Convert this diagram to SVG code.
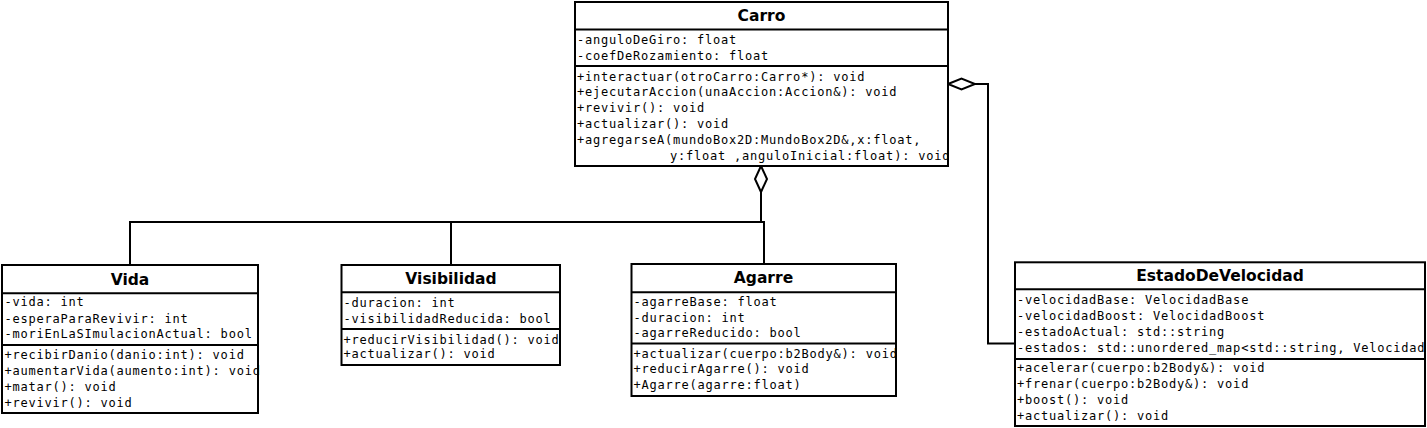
<svg xmlns="http://www.w3.org/2000/svg" width="1427" height="428" viewBox="0 0 1427 428">
<style>
.box{fill:#fff;stroke:#000;stroke-width:2}
.sep{stroke:#000;stroke-width:2}
.t{font-family:"DejaVu Sans","Liberation Sans",sans-serif;font-weight:bold;font-size:15.5px;text-anchor:middle;fill:#000}
.m{font-family:"DejaVu Sans Mono","Liberation Mono",monospace;font-size:12px;letter-spacing:0.78px;fill:#000}
.c{fill:none;stroke:#000;stroke-width:2}
.d{fill:#fff;stroke:#000;stroke-width:2}
</style>
<rect width="1427" height="428" fill="#fff"/>
<g id="connectors">
<polyline class="c" points="130,265 130,222 764,222 764,264"/>
<line class="c" x1="451" y1="222" x2="451" y2="265"/>
<line class="c" x1="761" y1="192" x2="761" y2="222"/>
<polygon class="d" points="761,166 767,179 761,192 755,179"/>
<polyline class="c" points="1015,343.5 988,343.5 988,84 975,84"/>
<polygon class="d" points="948,84 961.5,78.5 975,84 961.5,89.5"/>
</g>
<g id="Carro">
<rect class="box" x="575" y="2" width="373" height="164"/>
<line class="sep" x1="575" y1="29.5" x2="948" y2="29.5"/>
<line class="sep" x1="575" y1="66" x2="948" y2="66"/>
<text class="t" x="761.5" y="21">Carro</text>
<text class="m" x="577" y="44">-anguloDeGiro: float</text>
<text class="m" x="577" y="59.5">-coefDeRozamiento: float</text>
<text class="m" x="577" y="80.5">+interactuar(otroCarro:Carro*): void</text>
<text class="m" x="577" y="96.3">+ejecutarAccion(unaAccion:Accion&amp;): void</text>
<text class="m" x="577" y="112.1">+revivir(): void</text>
<text class="m" x="577" y="127.9">+actualizar(): void</text>
<text class="m" x="577" y="143.7">+agregarseA(mundoBox2D:MundoBox2D&amp;,x:float,</text>
<text class="m" x="670" y="159.5">y:float ,anguloInicial:float): void</text>
</g>
<g id="Vida">
<rect class="box" x="2" y="265" width="256" height="148"/>
<line class="sep" x1="2" y1="293.3" x2="258" y2="293.3"/>
<line class="sep" x1="2" y1="345" x2="258" y2="345"/>
<text class="t" x="130" y="285">Vida</text>
<text class="m" x="4.5" y="306.3">-vida: int</text>
<text class="m" x="4.5" y="322.5">-esperaParaRevivir: int</text>
<text class="m" x="4.5" y="338.3">-moriEnLaSImulacionActual: bool</text>
<text class="m" x="4.5" y="359.3">+recibirDanio(danio:int): void</text>
<text class="m" x="4.5" y="374.8">+aumentarVida(aumento:int): void</text>
<text class="m" x="4.5" y="390.6">+matar(): void</text>
<text class="m" x="4.5" y="406.5">+revivir(): void</text>
</g>
<g id="Visibilidad">
<rect class="box" x="341.5" y="265" width="218.5" height="100"/>
<line class="sep" x1="341.5" y1="292.3" x2="560" y2="292.3"/>
<line class="sep" x1="341.5" y1="329" x2="560" y2="329"/>
<text class="t" x="451" y="283.8">Visibilidad</text>
<text class="m" x="343.5" y="307">-duracion: int</text>
<text class="m" x="343.5" y="322.6">-visibilidadReducida: bool</text>
<text class="m" x="343.5" y="343.6">+reducirVisibilidad(): void</text>
<text class="m" x="343.5" y="358.4">+actualizar(): void</text>
</g>
<g id="Agarre">
<rect class="box" x="631.5" y="264" width="264.5" height="132"/>
<line class="sep" x1="631.5" y1="292.3" x2="896" y2="292.3"/>
<line class="sep" x1="631.5" y1="343.5" x2="896" y2="343.5"/>
<text class="t" x="763.5" y="283">Agarre</text>
<text class="m" x="633.5" y="305.7">-agarreBase: float</text>
<text class="m" x="633.5" y="321.6">-duracion: int</text>
<text class="m" x="633.5" y="337.3">-agarreReducido: bool</text>
<text class="m" x="633.5" y="357.7">+actualizar(cuerpo:b2Body&amp;): void</text>
<text class="m" x="633.5" y="373.3">+reducirAgarre(): void</text>
<text class="m" x="633.5" y="389.2">+Agarre(agarre:float)</text>
</g>
<g id="EstadoDeVelocidad">
<rect class="box" x="1015" y="262.3" width="410" height="163.7"/>
<line class="sep" x1="1015" y1="289.3" x2="1425" y2="289.3"/>
<line class="sep" x1="1015" y1="359" x2="1425" y2="359"/>
<text class="t" x="1220" y="281">EstadoDeVelocidad</text>
<text class="m" x="1017" y="304">-velocidadBase: VelocidadBase</text>
<text class="m" x="1017" y="320">-velocidadBoost: VelocidadBoost</text>
<text class="m" x="1017" y="335.7">-estadoActual: std::string</text>
<text class="m" x="1017" y="351.7">-estados: std::unordered_map&lt;std::string, Velocidad</text>
<text class="m" x="1017" y="372.3">+acelerar(cuerpo:b2Body&amp;): void</text>
<text class="m" x="1017" y="387.9">+frenar(cuerpo:b2Body&amp;): void</text>
<text class="m" x="1017" y="404">+boost(): void</text>
<text class="m" x="1017" y="420">+actualizar(): void</text>
</g>
</svg>
